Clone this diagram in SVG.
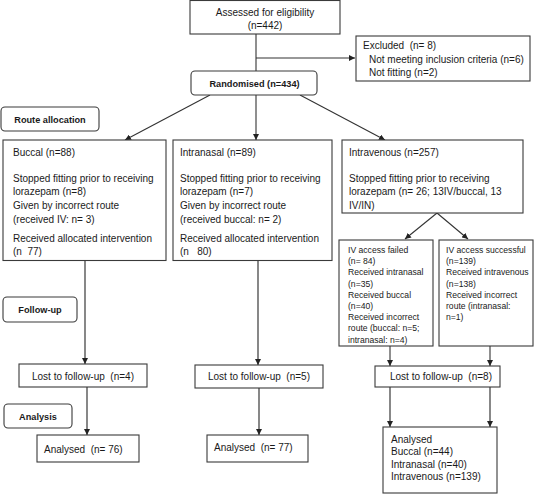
<svg xmlns="http://www.w3.org/2000/svg" width="536" height="494" viewBox="0 0 536 494" xml:space="preserve">
<defs>
<style>
.box{fill:#fff;stroke:#3a3a3a;stroke-width:1.1}
.rbox{fill:#fff;stroke:#3a3a3a;stroke-width:1.1}
text{font-family:"Liberation Sans",Arial,sans-serif;font-size:10px;fill:#1a1a1a;white-space:pre}
.b{font-weight:bold;font-size:9.2px}
.s{font-size:8.6px}
.m{text-anchor:middle}
.c{fill:none;stroke:#333;stroke-width:1.1}
.g{fill:none;stroke:#555;stroke-width:1.4}
</style>
<marker id="ah" viewBox="0 0 10 10" refX="10" refY="5" markerWidth="6" markerHeight="6" markerUnits="userSpaceOnUse" orient="auto">
<path d="M0,0 L10,5 L0,10 z" fill="#222"/>
</marker>
</defs>
<rect width="536" height="494" fill="#fff"/>

<g id="connectors">
<path class="c" d="M256,34 V71"/>
<path class="c" d="M256,58 H355" marker-end="url(#ah)"/>
<path class="c" d="M210,95 L125,140" marker-end="url(#ah)"/>
<path class="c" d="M256,95 V140" marker-end="url(#ah)"/>
<path class="c" d="M300,95 L385,140" marker-end="url(#ah)"/>
<path class="g" d="M85,261 V364" marker-end="url(#ah)"/>
<path class="g" d="M87,387 V435" marker-end="url(#ah)"/>
<path class="g" d="M258,261 V365" marker-end="url(#ah)"/>
<path class="g" d="M259,388 V435" marker-end="url(#ah)"/>
<path class="c" d="M437,213 L405,239" marker-end="url(#ah)"/>
<path class="c" d="M437,213 L468,239" marker-end="url(#ah)"/>
<path class="c" d="M390,346 V366" marker-end="url(#ah)"/>
<path class="c" d="M490,346 V366" marker-end="url(#ah)"/>
<path class="g" d="M390,387 V427" marker-end="url(#ah)"/>
<path class="g" d="M490,387 V427" marker-end="url(#ah)"/>
</g>

<g id="assessed">
<rect class="box" x="190" y="0.5" width="150" height="33.5"/>
<text class="m" x="265" y="16">Assessed for eligibility</text>
<text class="m" x="265" y="29">(n=442)</text>
</g>

<g id="excluded">
<rect class="box" x="356" y="36" width="174" height="45"/>
<text x="363" y="49">Excluded  (n= 8)</text>
<text x="369" y="62.5">Not meeting inclusion criteria (n=6)</text>
<text x="369" y="75.5">Not fitting (n=2)</text>
</g>

<g id="randomised">
<rect class="rbox" x="191" y="71" width="126" height="24" rx="4"/>
<text class="b m" x="254.5" y="87">Randomised (n=434)</text>
</g>

<g id="route-allocation">
<rect class="rbox" x="1" y="107" width="98" height="24" rx="4"/>
<text class="b m" x="50" y="123">Route allocation</text>
</g>

<g id="buccal">
<rect class="box" x="3" y="140" width="163" height="120.5"/>
<text x="13" y="156">Buccal (n=88)</text>
<text x="13" y="182">Stopped fitting prior to receiving</text>
<text x="13" y="195">lorazepam (n=8)</text>
<text x="13" y="209">Given by incorrect route</text>
<text x="13" y="223">(received IV: n= 3)</text>
<text x="13" y="242">Received allocated intervention</text>
<text x="13" y="255">(n  77)</text>
</g>

<g id="intranasal">
<rect class="box" x="173" y="140" width="159" height="120.5"/>
<text x="180" y="156">Intranasal (n=89)</text>
<text x="180" y="182">Stopped fitting prior to receiving</text>
<text x="180" y="195">lorazepam (n=7)</text>
<text x="180" y="209">Given by incorrect route</text>
<text x="180" y="223">(received buccal: n= 2)</text>
<text x="180" y="242">Received allocated intervention</text>
<text x="180" y="255">(n   80)</text>
</g>

<g id="intravenous">
<rect class="box" x="342" y="140" width="181" height="73"/>
<text x="349" y="156">Intravenous (n=257)</text>
<text x="349" y="182">Stopped fitting prior to receiving</text>
<text x="349" y="195">lorazepam (n= 26; 13IV/buccal, 13</text>
<text x="349" y="208.5">IV/IN)</text>
</g>

<g id="iv-failed">
<rect class="box" x="339" y="240" width="94" height="106"/>
<text class="s" x="348" y="253">IV access failed</text>
<text class="s" x="348" y="264.2">(n= 84)</text>
<text class="s" x="348" y="275.4">Received intranasal</text>
<text class="s" x="348" y="286.6">(n=35)</text>
<text class="s" x="348" y="297.8">Received buccal</text>
<text class="s" x="348" y="309">(n=40)</text>
<text class="s" x="348" y="320.2">Received incorrect</text>
<text class="s" x="348" y="331.4">route (buccal: n=5;</text>
<text class="s" x="348" y="342.6">intranasal: n=4)</text>
</g>

<g id="iv-successful">
<rect class="box" x="439" y="240" width="94" height="106"/>
<text class="s" x="446" y="253">IV access successful</text>
<text class="s" x="446" y="264.2">(n=139)</text>
<text class="s" x="446" y="275.4">Received intravenous</text>
<text class="s" x="446" y="286.6">(n=138)</text>
<text class="s" x="446" y="297.8">Received incorrect</text>
<text class="s" x="446" y="309">route (intranasal:</text>
<text class="s" x="446" y="320.2">n=1)</text>
</g>

<g id="follow-up">
<rect class="rbox" x="3" y="297" width="74" height="25" rx="4"/>
<text class="b m" x="40" y="313">Follow-up</text>
</g>

<g id="analysis">
<rect class="rbox" x="4" y="404" width="68" height="24" rx="4"/>
<text class="b m" x="38" y="419.5">Analysis</text>
</g>

<g id="lost-buccal">
<rect class="box" x="19" y="364" width="128" height="23"/>
<text class="m" x="83" y="379.5">Lost to follow-up  (n=4)</text>
</g>

<g id="lost-intranasal">
<rect class="box" x="195" y="365" width="128" height="23"/>
<text class="m" x="259" y="380">Lost to follow-up  (n=5)</text>
</g>

<g id="lost-intravenous">
<rect class="box" x="375" y="366" width="125" height="21"/>
<text class="m" x="441" y="379.5">Lost to follow-up  (n=8)</text>
</g>

<g id="analysed-buccal">
<rect class="box" x="37" y="435" width="102" height="27"/>
<text x="44" y="452.5">Analysed  (n= 76)</text>
</g>

<g id="analysed-intranasal">
<rect class="box" x="207" y="435" width="101" height="27"/>
<text x="214" y="451">Analysed  (n= 77)</text>
</g>

<g id="analysed-intravenous">
<rect class="box" x="383" y="427" width="114" height="66"/>
<text x="391" y="442.5">Analysed</text>
<text x="391" y="455">Buccal (n=44)</text>
<text x="391" y="467.5">Intranasal (n=40)</text>
<text x="391" y="480">Intravenous (n=139)</text>
</g>
</svg>
